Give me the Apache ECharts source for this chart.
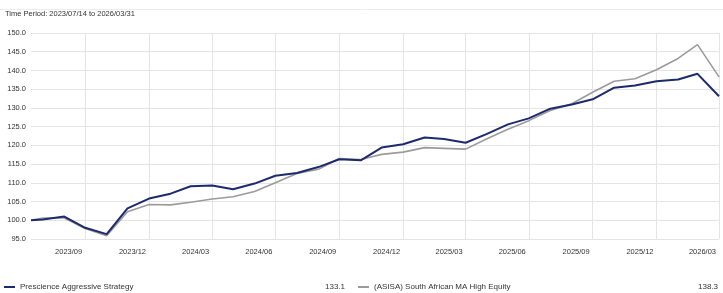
<!DOCTYPE html>
<html>
<head>
<meta charset="utf-8">
<script src="https://cdn.jsdelivr.net/npm/echarts@6/dist/echarts.min.js"></script>
<style>
  html, body { margin: 0; padding: 0; background: #fff; }
  #chart { width: 723px; height: 293px; }
</style>
</head>
<body>
<div id="chart"></div>
<script>
// month-end valuation dates (first point is the start of the period)
var dates = [
  '2023-07-14', '2023-07-31', '2023-08-31', '2023-09-30', '2023-10-31', '2023-11-30', '2023-12-31',
  '2024-01-31', '2024-02-29', '2024-03-31', '2024-04-30', '2024-05-31', '2024-06-30',
  '2024-07-31', '2024-08-31', '2024-09-30', '2024-10-31', '2024-11-30', '2024-12-31',
  '2025-01-31', '2025-02-28', '2025-03-31', '2025-04-30', '2025-05-31', '2025-06-30',
  '2025-07-31', '2025-08-31', '2025-09-30', '2025-10-31', '2025-11-30', '2025-12-31',
  '2026-01-31', '2026-02-28', '2026-03-31'
];
var prescience = [
  100.0, 100.2, 101.0, 98.0, 96.3, 103.2, 105.8,
  107.1, 109.1, 109.3, 108.3, 109.8, 111.9,
  112.6, 114.2, 116.3, 116.0, 119.4, 120.3,
  122.1, 121.7, 120.7, 123.0, 125.6, 127.2,
  129.8, 130.9, 132.3, 135.4, 136.0, 137.1,
  137.6, 139.1, 133.1
];
var asisa = [
  100.0, 100.6, 100.6, 97.8, 95.9, 102.3, 104.2,
  104.1, 104.8, 105.7, 106.3, 107.7, 110.0,
  112.5, 113.6, 116.5, 116.2, 117.6, 118.2,
  119.4, 119.2, 119.0, 121.7, 124.3, 126.6,
  129.3, 131.1, 134.2, 137.1, 137.8, 140.2,
  143.2, 146.9, 138.3
];
var quarterTicks = [
  '2023-09-30', '2023-12-31', '2024-03-31', '2024-06-30', '2024-09-30', '2024-12-31',
  '2025-03-31', '2025-06-30', '2025-09-30', '2025-12-31', '2026-03-31'
];
var seriesNames = ['Prescience Aggressive Strategy', '(ASISA) South African MA High Equity'];
var periodStart = '2023-07-14';
var periodEnd = '2026-03-31';

function toTime(s) {
  var p = s.split('-');
  return Date.UTC(+p[0], +p[1] - 1, +p[2]);
}
function pad(n) { return n < 10 ? '0' + n : '' + n; }
function pairs(vals) {
  return vals.map(function (v, i) { return [toTime(dates[i]), v]; });
}

var FONT = 'Liberation Sans, Arial, sans-serif';
var NAVY = '#1d2a6b';
var GREY = '#9b9b9b';
var GRID = '#e4e4e4';
var tickTimes = quarterTicks.map(toTime);

var chart = echarts.init(document.getElementById('chart'));

var lastValues = {};
lastValues[seriesNames[0]] = prescience[prescience.length - 1].toFixed(1);
lastValues[seriesNames[1]] = asisa[asisa.length - 1].toFixed(1);

function legendFor(name, left, nameWidth) {
  return {
    data: [name],
    left: left,
    top: 283,
    padding: 0,
    icon: 'rect',
    itemWidth: 11,
    itemHeight: 2,
    itemGap: 0,
    selectedMode: false,
    formatter: function (n) { return '{n|' + n + '}{v|' + lastValues[n] + '}'; },
    textStyle: {
      fontFamily: FONT,
      fontSize: 8,
      color: '#333',
      rich: {
        n: { width: nameWidth, fontFamily: FONT, fontSize: 8, color: '#333' },
        v: { width: 20, align: 'right', fontFamily: FONT, fontSize: 8, color: '#333' }
      }
    }
  };
}

chart.setOption({
  animation: false,
  title: {
    text: 'Time Period: ' + periodStart.replace(/-/g, '/') + ' to ' + periodEnd.replace(/-/g, '/'),
    left: 5,
    top: 10,
    padding: 0,
    textStyle: { fontFamily: FONT, fontSize: 7.5, fontWeight: 'normal', color: '#333' }
  },
  graphic: [{
    type: 'line',
    shape: { x1: 0, y1: 9.5, x2: 723, y2: 9.5 },
    style: { stroke: '#ececec', lineWidth: 1 }
  }],
  legend: [
    legendFor(seriesNames[0], 4, 305),
    legendFor(seriesNames[1], 358, 324)
  ],
  grid: { left: 31, right: 4, top: 33, bottom: 54 },
  xAxis: {
    type: 'value',
    min: toTime(periodStart),
    max: toTime(periodEnd),
    axisLine: { show: false },
    axisTick: { show: false, customValues: tickTimes },
    splitLine: { show: true, lineStyle: { color: GRID, width: 1 } },
    axisLabel: {
      customValues: tickTimes,
      fontFamily: FONT,
      fontSize: 7.5,
      color: '#333',
      margin: 9,
      align: 'right',
      padding: [0, 3, 0, 0],
      hideOverlap: false,
      showMinLabel: true,
      showMaxLabel: true,
      formatter: function (v) {
        var d = new Date(v);
        return d.getUTCFullYear() + '/' + pad(d.getUTCMonth() + 1);
      }
    }
  },
  yAxis: {
    type: 'value',
    min: 95,
    max: 150,
    interval: 5,
    axisLine: { show: false },
    axisTick: { show: false },
    splitLine: { lineStyle: { color: GRID, width: 1 } },
    axisLabel: {
      fontFamily: FONT,
      fontSize: 7.5,
      color: '#333',
      margin: 5,
      formatter: function (v) { return v.toFixed(1); }
    }
  },
  series: [
    {
      name: seriesNames[1],
      type: 'line',
      data: pairs(asisa),
      showSymbol: false,
      color: GREY,
      lineStyle: { color: GREY, width: 1.6 },
      z: 2
    },
    {
      name: seriesNames[0],
      type: 'line',
      data: pairs(prescience),
      showSymbol: false,
      color: NAVY,
      lineStyle: { color: NAVY, width: 2 },
      z: 3
    }
  ]
});
</script>
</body>
</html>
